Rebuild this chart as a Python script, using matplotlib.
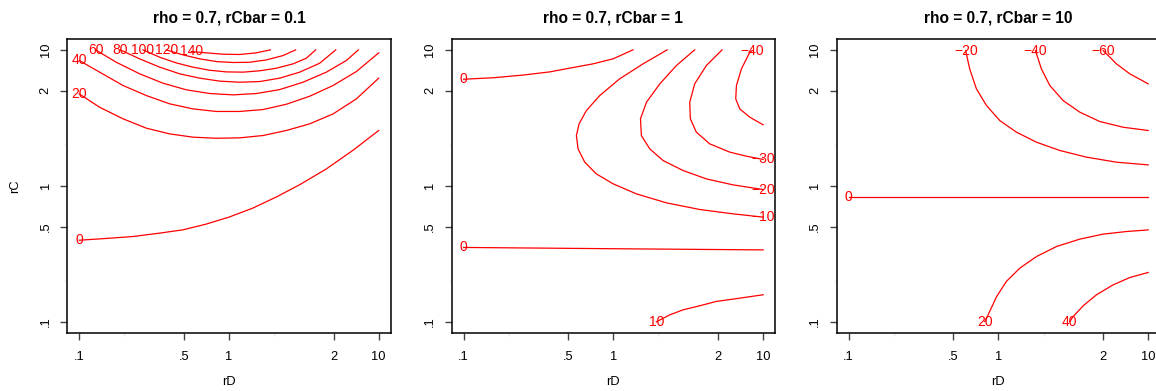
import matplotlib
matplotlib.use("Agg")
import matplotlib.pyplot as plt
import numpy as np

plt.rcParams['font.family'] = ['Liberation Sans', 'DejaVu Sans']

# axis ticks (positions in rD / rC units, labels as printed on the original)
TICK_POS = [0.1, 0.5, 1, 5, 10]
TICK_LABELS = ['.1', '.5', '1', '2', '10']
MINOR_POS = [0.2, 2]

TITLES = ['rho = 0.7, rCbar = 0.1', 'rho = 0.7, rCbar = 1', 'rho = 0.7, rCbar = 10']

# contour lines, as log10(rD) / log10(rC)
# first point of every line is where its label sits
P1_LEVELS = [0, 20, 40, 60, 80, 100, 120, 140]
P1_LOGRD = [
    [-1.0, -0.822, -0.644, -0.465, -0.310, -0.154, 0.0, 0.158, 0.314, 0.470, 0.648, 0.826, 1.0],
    [-1.0, -0.864, -0.708, -0.552, -0.396, -0.241, -0.085, 0.071, 0.227, 0.383, 0.539, 0.695, 0.851, 1.0],
    [-1.0, -0.864, -0.708, -0.552, -0.396, -0.241, -0.085, 0.071, 0.227, 0.383, 0.539, 0.695, 0.851, 1.0],
    [-0.891, -0.753, -0.597, -0.441, -0.285, -0.129, 0.027, 0.183, 0.339, 0.494, 0.650, 0.784, 0.864],
    [-0.726, -0.597, -0.463, -0.330, -0.196, -0.062, 0.071, 0.205, 0.339, 0.472, 0.606, 0.713],
    [-0.575, -0.463, -0.352, -0.241, -0.129, -0.018, 0.094, 0.205, 0.316, 0.428, 0.517, 0.579],
    [-0.419, -0.307, -0.196, -0.085, 0.027, 0.138, 0.249, 0.361, 0.445],
    [-0.252, -0.151, -0.040, 0.071, 0.183, 0.276],
]
P1_LOGRC = [
    [-0.400, -0.387, -0.373, -0.348, -0.324, -0.282, -0.230, -0.164, -0.083, 0.007, 0.123, 0.260, 0.407],
    [0.676, 0.578, 0.493, 0.424, 0.382, 0.358, 0.350, 0.353, 0.370, 0.407, 0.456, 0.529, 0.640, 0.792],
    [0.922, 0.836, 0.738, 0.664, 0.603, 0.566, 0.547, 0.547, 0.561, 0.600, 0.659, 0.738, 0.841, 0.978],
    [1.0, 0.909, 0.824, 0.755, 0.706, 0.679, 0.669, 0.679, 0.708, 0.762, 0.836, 0.922, 1.0],
    [1.0, 0.934, 0.873, 0.824, 0.792, 0.770, 0.762, 0.767, 0.792, 0.836, 0.902, 1.0],
    [1.0, 0.946, 0.904, 0.873, 0.850, 0.838, 0.836, 0.846, 0.865, 0.897, 0.939, 1.0],
    [1.0, 0.963, 0.934, 0.914, 0.907, 0.909, 0.926, 0.958, 1.0],
    [0.988, 0.978, 0.968, 0.966, 0.978, 1.0],
]

P2_LEVELS = [0, 0, -10, -20, -30, -40, 10]
P2_LOGRD = [
    [-1.0, -0.80, -0.60, -0.425, -0.28, -0.136, -0.002, 0.131],
    [-1.0, 0.065, 1.0],
    [1.0, 0.800, 0.577, 0.354, 0.154, -0.002, -0.114, -0.191, -0.236, -0.247, -0.229, -0.180, -0.091, 0.042, 0.198, 0.359],
    [1.0, 0.800, 0.621, 0.465, 0.332, 0.243, 0.187, 0.181, 0.221, 0.310, 0.421, 0.543],
    [1.0, 0.889, 0.777, 0.643, 0.554, 0.514, 0.510, 0.543, 0.621, 0.726],
    [0.929, 0.911, 0.855, 0.822, 0.817, 0.844, 0.911, 1.0],
    [0.287, 0.376, 0.465, 0.577, 0.688, 0.844, 1.0],
]
P2_LOGRC = [
    [0.784, 0.795, 0.815, 0.838, 0.868, 0.897, 0.934, 1.0],
    [-0.453, -0.463, -0.471],
    [-0.230, -0.206, -0.174, -0.125, -0.059, 0.015, 0.088, 0.174, 0.272, 0.370, 0.456, 0.554, 0.664, 0.787, 0.897, 1.0],
    [-0.027, 0.007, 0.051, 0.113, 0.186, 0.272, 0.370, 0.493, 0.615, 0.750, 0.885, 1.0],
    [0.194, 0.218, 0.248, 0.309, 0.395, 0.493, 0.615, 0.750, 0.885, 1.0],
    [0.995, 0.983, 0.860, 0.738, 0.640, 0.566, 0.505, 0.449],
    [-1.0, -0.949, -0.912, -0.882, -0.850, -0.826, -0.801],
]

P3_LEVELS = [0, -20, -40, -60, 20, 40]
P3_LOGRD = [
    [-1.0, 1.0],
    [-0.218, -0.214, -0.192, -0.147, -0.080, 0.009, 0.120, 0.254, 0.410, 0.588, 0.788, 1.0],
    [0.247, 0.254, 0.287, 0.343, 0.432, 0.543, 0.677, 0.833, 1.0],
    [0.699, 0.722, 0.788, 0.877, 1.0],
    [-0.091, -0.069, -0.013, 0.053, 0.143, 0.254, 0.388, 0.543, 0.699, 0.855, 1.0],
    [0.477, 0.499, 0.566, 0.655, 0.766, 0.878, 1.0],
]
P3_LOGRC = [
    [-0.080, -0.080],
    [0.995, 0.971, 0.860, 0.713, 0.591, 0.480, 0.395, 0.321, 0.260, 0.211, 0.174, 0.154],
    [0.995, 0.971, 0.860, 0.738, 0.627, 0.542, 0.473, 0.431, 0.407],
    [0.995, 0.971, 0.897, 0.824, 0.750],
    [-0.998, -0.949, -0.816, -0.703, -0.605, -0.520, -0.446, -0.392, -0.355, -0.336, -0.324],
    [-0.998, -0.961, -0.882, -0.801, -0.728, -0.674, -0.637],
]

panels = [
    (P1_LEVELS, P1_LOGRD, P1_LOGRC),
    (P2_LEVELS, P2_LOGRD, P2_LOGRC),
    (P3_LEVELS, P3_LOGRD, P3_LOGRC),
]

fig = plt.figure(figsize=(11.56, 3.91), dpi=100)
lefts = [0.0582, 0.3907, 0.7238]

for i, (levels, xs_all, ys_all) in enumerate(panels):
    ax = fig.add_axes([lefts[i], 0.1491, 0.2798, 0.7512])
    for lev, xs, ys in zip(levels, xs_all, ys_all):
        ax.plot(xs, ys, color='red', lw=0.9, solid_joinstyle='round')
        lab = str(lev).replace('-', '\u2212')
        ax.text(xs[0], ys[0], lab, color='red', fontsize=10,
                ha='center', va='center')

    ax.set_xlim(-1.08, 1.08)
    ax.set_ylim(-1.08, 1.08)
    ax.set_xticks(np.log10(TICK_POS))
    ax.set_xticklabels(TICK_LABELS)
    ax.set_yticks(np.log10(TICK_POS))
    ax.set_yticklabels(TICK_LABELS, rotation=90, va='center')
    ax.set_xticks(np.log10(MINOR_POS), minor=True)
    ax.set_yticks(np.log10(MINOR_POS), minor=True)
    ax.tick_params(which='major', length=5.3, width=1, color='#444444',
                   labelsize=9.3, pad=8)
    ax.tick_params(axis='y', which='major', pad=6)
    ax.tick_params(which='minor', length=2, width=1, color='#e6e6e6')
    for sp in ax.spines.values():
        sp.set_linewidth(1.1)

    ax.set_title(TITLES[i], fontsize=11.2, fontweight='bold', pad=12)
    ax.set_xlabel('rD', fontsize=9.3, labelpad=9)
    if i == 0:
        ax.set_ylabel('rC', fontsize=9.3, labelpad=13)

fig.savefig('out.png', dpi=100)
